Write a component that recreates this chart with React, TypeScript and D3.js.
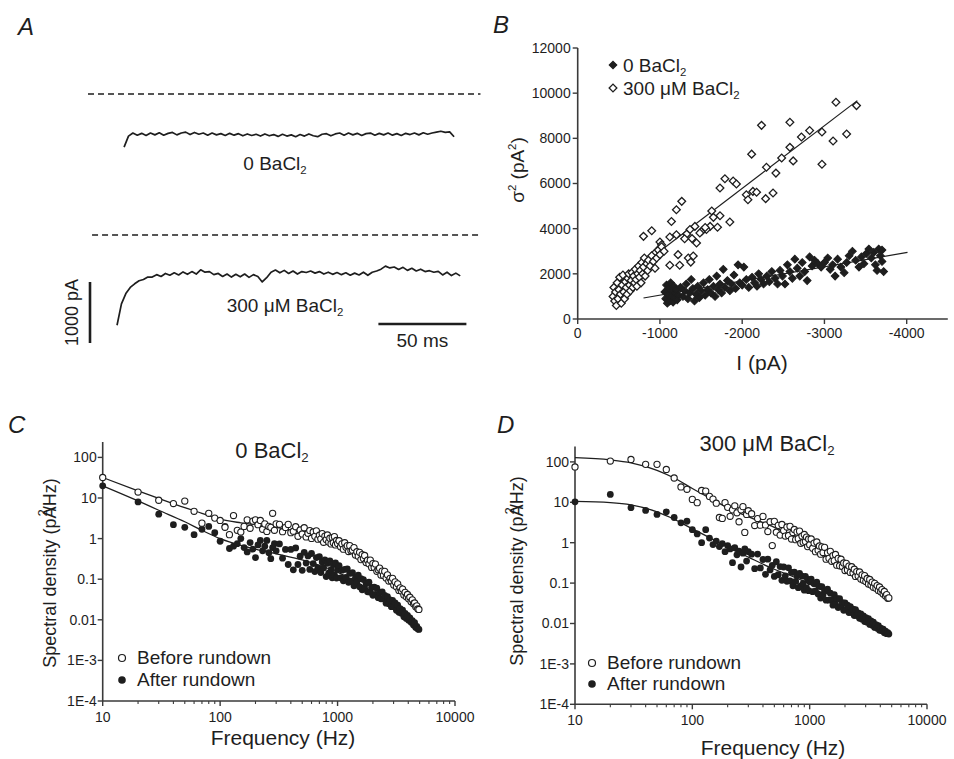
import React from 'react';
import * as d3 from 'd3';

const FONT = '"Liberation Sans", Arial, Helvetica, sans-serif';
const INK = '#1e1e1e';
const AXIS_COL = '#3a3a3a';

// ---------------- Panel A: current traces ----------------
const SAMPLE_MS = 2.5;
const trace0StartMs = 20.5;
const trace0 = [
  -870, -690, -640, -675, -645, -680, -640, -670, -635, -675,
  -645, -630, -670, -640, -625, -665, -630, -660, -640, -675,
  -640, -670, -650, -680, -645, -675, -650, -685, -655, -680,
  -660, -690, -655, -685, -665, -695, -660, -690, -670, -700,
  -665, -690, -655, -685, -700, -660, -650, -685, -655, -640,
  -675, -640, -670, -645, -680, -650, -640, -675, -645, -670,
  -640, -675, -650, -680, -645, -665, -640, -670, -635, -660,
  -640, -625, -610, -630, -620, -700,
];
const trace300StartMs = 16.5;
const trace300 = [
  -1480, -1130, -960, -860, -800, -750, -730, -690, -690, -650,
  -680, -630, -660, -620, -655, -605, -645, -600, -640, -570,
  -610, -600, -650, -630, -680, -640, -690, -645, -685, -640,
  -695, -650, -680, -770, -700, -610, -575, -620, -580, -630,
  -590, -640, -600, -615, -590, -625, -600, -640, -610, -645,
  -615, -650, -620, -660, -625, -655, -610, -660, -610, -590,
  -560, -510, -540, -525, -565, -530, -580, -545, -590, -560,
  -600, -585, -610, -595, -655, -610, -665, -625, -670,
];
const baselineStartMs = [0, 2.3];
const baselineEndMs = 223;
const timeBarMs = [165, 215];
const currentBarPA = 1000;

// ---------------- Panel B: variance vs current ----------------
const bTicksX = [0, -1000, -2000, -3000, -4000];
const bTicksY = [0, 2000, 4000, 6000, 8000, 10000, 12000];
const openDiamonds: [number, number][] = [
  [-3140, 9600], [-3390, 9450], [-2580, 8710], [-2235, 8575], [-2820, 8350], [-2720, 8060],
  [-2970, 8280], [-3270, 8190], [-3105, 7880], [-2580, 7600], [-2115, 7300], [-2480, 7130],
  [-2620, 7000], [-2970, 6850], [-2295, 6720], [-2410, 6460], [-1790, 6210], [-1890, 6110],
  [-1930, 5980], [-1730, 5800], [-2130, 5650], [-2050, 5500], [-2175, 5610], [-2070, 5280],
  [-2375, 5580], [-2285, 5330], [-1265, 5210], [-1200, 4840], [-1140, 4320], [-1630, 4780],
  [-1730, 4575], [-1650, 4500], [-1850, 4295], [-1610, 4100], [-1700, 4060], [-1425, 4100],
  [-1505, 3880], [-1365, 3960], [-1325, 3760], [-1390, 3560], [-1445, 3365], [-1200, 3730],
  [-1120, 3630], [-800, 3660], [-900, 3910], [-1000, 3410], [-1000, 3140], [-940, 2920],
  [-1220, 2850], [-1240, 2380], [-1120, 2380], [-1345, 2700], [-1405, 2790], [-1375, 2520],
  [-1020, 3290], [-1485, 3810], [-1565, 3960], [-1300, 3550], [-1550, 4050],
  [-430, 1000], [-440, 1400], [-450, 800], [-460, 1200], [-470, 600], [-480, 1600],
  [-490, 900], [-500, 1300], [-510, 1850], [-520, 1100], [-530, 700], [-540, 1500],
  [-550, 1950], [-560, 1200], [-570, 900], [-580, 1650], [-590, 1400], [-600, 1100],
  [-610, 1800], [-620, 2000], [-630, 1500], [-640, 1250], [-650, 1700], [-660, 2050],
  [-670, 1400], [-680, 1900], [-690, 1600], [-700, 2200], [-710, 1750], [-720, 1450],
  [-730, 2000], [-740, 2350], [-750, 1850], [-760, 2150], [-770, 1600], [-780, 2500],
  [-790, 2000], [-800, 2300], [-810, 2700], [-820, 1900], [-840, 2450], [-850, 2150],
  [-860, 2600], [-880, 2350], [-900, 2800], [-920, 2550], [-940, 2250], [-960, 2700],
  [-980, 3050], [-1000, 2850], [-1020, 3200], [-1050, 3000],
];
const filledDiamonds: [number, number][] = [
  [-1060, 1200], [-1070, 900], [-1080, 1500], [-1090, 700], [-1100, 1100], [-1110, 1350],
  [-1120, 800], [-1130, 1600], [-1140, 1000], [-1150, 1250], [-1160, 750], [-1170, 1450],
  [-1180, 950], [-1190, 1150], [-1200, 1300], [-1210, 850], [-1230, 1050], [-1250, 1400],
  [-1280, 1000], [-1300, 1250], [-1320, 1550], [-1340, 900], [-1360, 1150], [-1380, 1750],
  [-1400, 1350], [-1420, 800], [-1440, 1100], [-1460, 1450], [-1480, 950], [-1500, 1250],
  [-1530, 1600], [-1550, 1050], [-1580, 1300], [-1600, 1750], [-1620, 1150], [-1650, 1450],
  [-1670, 1000], [-1690, 1900], [-1710, 1300], [-1730, 1550], [-1750, 1150], [-1770, 2200],
  [-1790, 1400], [-1820, 1700], [-1850, 1250], [-1870, 1550], [-1900, 1950], [-1920, 1350],
  [-1950, 2400], [-1970, 1600], [-2000, 1500], [-2020, 2300], [-2050, 1750], [-2080, 1400],
  [-2120, 1850], [-2150, 1600], [-2180, 1450], [-2200, 2000], [-2230, 1750], [-2260, 1550],
  [-2300, 1900], [-2330, 1650], [-2360, 2100], [-2400, 1800], [-2430, 1550], [-2460, 2150],
  [-2490, 1900], [-2520, 1550], [-2550, 2400], [-2580, 2100], [-2610, 1800], [-2640, 2650],
  [-2670, 2250], [-2700, 1900], [-2730, 2500], [-2760, 2100], [-2790, 1700], [-2820, 2750],
  [-2850, 2350], [-2880, 2600], [-2920, 2450], [-2960, 2300], [-3000, 2500], [-3040, 2700],
  [-3070, 2200], [-3100, 2400], [-3130, 1900], [-3160, 2650], [-3200, 2300], [-3240, 2050],
  [-3270, 2500], [-3300, 2800], [-3340, 3000], [-3380, 2600], [-3420, 2300], [-3450, 2750],
  [-3480, 2450], [-3510, 2900], [-3540, 3100], [-3570, 2700], [-3600, 2950], [-3620, 2400],
  [-3640, 2150], [-3660, 3100], [-3680, 2800], [-3700, 2550], [-3700, 3050], [-3720, 2100],
];
const openFit: [number, number][] = [[-420, 1390], [-3400, 9670]];
const filledFit: [number, number][] = [[-800, 930], [-4010, 2950]];

// ---------------- Panels C & D: spectra ----------------
const freqs = [
  10, 20, 30, 40, 50, 60, 70, 80, 90, 100, 110, 120, 130, 140, 150, 160, 170, 180, 190, 200,
  210, 220, 230, 240, 250, 260, 270, 280, 290, 300,
  320, 340, 360, 380, 400, 420, 440, 460, 480, 500, 520, 540, 560, 580, 600, 620, 640, 660, 680, 700,
  720, 740, 760, 780, 800, 820, 840, 860, 880, 900, 920, 940, 960, 980, 1000,
  1030, 1060, 1090, 1120, 1150, 1180, 1210, 1240, 1270, 1300,
  1340, 1380, 1420, 1460, 1500, 1540, 1580, 1620, 1660, 1700,
  1750, 1800, 1850, 1900, 1950, 2000,
  2050, 2100, 2160, 2220, 2280, 2340, 2400, 2460,
  2520, 2590, 2660, 2730, 2800, 2870, 2940, 3010,
  3090, 3170, 3250, 3330, 3410, 3490, 3580, 3670,
  3760, 3850, 3940, 4030, 4130,
  4230, 4330, 4430, 4530, 4630, 4730, 4830, 4930,
];
const cBefore = [
  32, 14, 8.8, 7.3, 8.4, 4.7, 2.4, 4.2, 3.2, 2.8, 1.9, 1.25, 3.7, 1.6, 1.45, 2.0, 2.9, 1.8, 2.7, 2.9,
  2.2, 2.8, 1.7, 2.3, 1.5, 2.0, 1.9, 4.2, 1.6, 2.3,
  2.25, 1.48, 1.89, 2.24, 1.4, 1.52, 1.96, 1.14, 1.63, 1.3, 1.85, 1.1, 1.35, 1.58, 1.01, 1.46, 1.14, 1.55, 0.97, 1.21,
  0.99, 1.33, 0.81, 1.15, 0.95, 1.23, 0.82, 1.02, 0.74, 1.06, 0.79, 1.12, 0.7, 0.9, 0.76,
  0.885, 0.63, 0.745, 0.55, 0.79, 0.61, 0.67, 0.48, 0.67, 0.5,
  0.52, 0.6, 0.395, 0.475, 0.37, 0.46, 0.304, 0.403, 0.323, 0.384,
  0.258, 0.294, 0.239, 0.295, 0.195, 0.242,
  0.193, 0.236, 0.157, 0.172, 0.187, 0.127, 0.158, 0.124,
  0.156, 0.107, 0.128, 0.09, 0.105, 0.09, 0.105, 0.072,
  0.086, 0.065, 0.077, 0.053, 0.061, 0.051, 0.057, 0.041,
  0.0475, 0.037, 0.042, 0.033, 0.036,
  0.028, 0.031, 0.025, 0.026, 0.021, 0.022, 0.0185, 0.018,
];
const cAfter = [
  20, 8.0, 4.0, 2.2, 1.9, 1.25, 1.7, 2.0, 1.4, 0.86, 2.0, 0.57, 0.65, 0.75, 1.0, 0.6, 0.47, 0.8, 0.55, 0.34,
  0.7, 0.9, 0.5, 0.65, 0.9, 0.45, 0.32, 0.6, 0.75, 0.5,
  0.74, 0.33, 0.54, 0.23, 0.54, 0.17, 0.59, 0.23, 0.37, 0.165, 0.46, 0.25, 0.375, 0.174, 0.43, 0.243, 0.154, 0.34, 0.19, 0.36,
  0.146, 0.265, 0.19, 0.3, 0.116, 0.246, 0.14, 0.283, 0.171, 0.108, 0.229, 0.129, 0.252, 0.107, 0.176,
  0.217, 0.108, 0.167, 0.091, 0.174, 0.11, 0.18, 0.084, 0.139, 0.09,
  0.144, 0.069, 0.108, 0.085, 0.126, 0.065, 0.103, 0.055, 0.098, 0.059,
  0.078, 0.049, 0.084, 0.048, 0.063, 0.04,
  0.064, 0.0425, 0.06, 0.035, 0.047, 0.033, 0.049, 0.0326,
  0.04, 0.0257, 0.037, 0.025, 0.031, 0.021, 0.03, 0.021,
  0.026, 0.0172, 0.023, 0.0153, 0.0187, 0.0144, 0.0173, 0.0119,
  0.0143, 0.0108, 0.0129, 0.0097, 0.0111,
  0.0087, 0.0095, 0.0074, 0.0085, 0.0065, 0.0069, 0.0059, 0.0058,
];
const dBefore = [
  75, 105, 115, 87, 87, 65, 40, 24, 21, 11.8, 9.8, 19.6, 19, 14, 12, 9.5, 4.2, 4.0, 9.8, 7.5,
  4.5, 6.5, 8.2, 5.5, 3.3, 6.5, 7.8, 1.8, 5.0, 6.2,
  5.2, 2.66, 3.96, 2.72, 4.48, 2.75, 1.89, 3.3, 0.85, 3.38, 1.82, 2.69, 1.54, 2.83, 2.0, 1.46, 2.45, 1.51, 2.55, 1.23,
  1.79, 2.13, 1.19, 1.85, 1.26, 1.93, 0.97, 1.46, 1.02, 1.6, 1.07, 1.38, 0.8, 1.24, 0.89,
  1.24, 0.73, 0.98, 0.6, 1.04, 0.65, 0.83, 0.52, 0.79, 0.57,
  0.77, 0.39, 0.56, 0.41, 0.61, 0.346, 0.48, 0.36, 0.51, 0.277,
  0.41, 0.268, 0.39, 0.258, 0.314, 0.205,
  0.307, 0.212, 0.264, 0.184, 0.254, 0.178, 0.221, 0.146,
  0.193, 0.149, 0.188, 0.126, 0.16, 0.117, 0.153, 0.109,
  0.13, 0.095, 0.123, 0.09, 0.106, 0.079, 0.099, 0.075,
  0.087, 0.066, 0.08, 0.061, 0.069,
  0.054, 0.062, 0.048, 0.052, 0.042, 0.043,
];
const dAfter = [
  10.3, 15.7, 7.35, 6.3, 5.0, 5.8, 4.2, 3.1, 3.4, 2.1, 1.65, 1.0, 2.1, 1.3, 0.9, 1.1, 0.8, 0.95, 0.6, 0.85,
  0.7, 0.32, 0.75, 0.5, 0.62, 0.25, 0.55, 0.7, 0.35, 0.6,
  0.52, 0.228, 0.522, 0.238, 0.384, 0.165, 0.392, 0.212, 0.275, 0.146, 0.338, 0.161, 0.256, 0.117, 0.25, 0.151, 0.111, 0.239, 0.114, 0.184,
  0.086, 0.186, 0.11, 0.153, 0.077, 0.175, 0.085, 0.148, 0.098, 0.067, 0.147, 0.076, 0.124, 0.065, 0.108,
  0.125, 0.0615, 0.096, 0.0635, 0.106, 0.054, 0.0826, 0.0427, 0.0816, 0.0512,
  0.0626, 0.0377, 0.0704, 0.0378, 0.0562, 0.0386, 0.0284, 0.052, 0.0306, 0.042,
  0.0249, 0.041, 0.0265, 0.0327, 0.0212, 0.0324,
  0.0219, 0.0284, 0.0187, 0.0262, 0.0187, 0.0226, 0.0157, 0.0221,
  0.0158, 0.0184, 0.0134, 0.0174, 0.0128, 0.0155, 0.0112, 0.0139,
  0.0108, 0.0132, 0.0095, 0.0116, 0.009, 0.0108, 0.008, 0.0094,
  0.0076, 0.0088, 0.0068, 0.0077, 0.0066,
  0.0072, 0.0059, 0.0065, 0.0056, 0.0059, 0.0055,
];
const cBeforeFit: [number, number][] = [
  [10, 32], [20, 15], [30, 9.8], [50, 5.8], [70, 4.2], [100, 3.0], [150, 2.45], [200, 2.2],
  [300, 1.9], [500, 1.4], [700, 1.05], [1000, 0.72], [1500, 0.42], [2000, 0.24], [3000, 0.085],
  [4000, 0.038], [4900, 0.018],
];
const cAfterFit: [number, number][] = [
  [10, 20], [20, 8.5], [30, 5], [50, 2.6], [70, 1.6], [100, 1.0], [150, 0.68], [200, 0.55],
  [300, 0.42], [500, 0.3], [700, 0.22], [1000, 0.15], [1500, 0.08], [2000, 0.048], [3000, 0.02],
  [4000, 0.01], [4900, 0.006],
];
const dBeforeFit: [number, number][] = [
  [10, 127], [20, 112], [30, 95], [50, 62], [70, 40], [100, 22], [150, 11.5], [200, 7.3],
  [300, 4.4], [500, 2.4], [700, 1.6], [1000, 0.95], [1500, 0.5], [2000, 0.28], [3000, 0.12],
  [4700, 0.045],
];
const dAfterFit: [number, number][] = [
  [10, 10.5], [20, 9.8], [30, 8.6], [50, 5.8], [70, 3.8], [100, 2.2], [130, 1.5], [200, 0.78],
  [300, 0.44], [500, 0.22], [700, 0.15], [1000, 0.095], [1500, 0.052], [2000, 0.031],
  [3000, 0.014], [4800, 0.0055],
];
const specTickValues = [1e-4, 1e-3, 0.01, 0.1, 1, 10, 100];
const specTickLabels = ['1E-4', '1E-3', '0.01', '0.1', '1', '10', '100'];
const freqTickValues = [10, 100, 1000, 10000];
const freqTickLabels = ['10', '100', '1000', '10000'];

const Sub = ({ children }: { children: React.ReactNode }) => (
  <tspan fontSize="0.6em" dy={4}>{children}</tspan>
);

function PanelA() {
  const t = d3.scaleLinear().domain([0, 50]).range([88, 176]);
  const i0 = d3.scaleLinear().domain([0, -1000]).range([94, 155]);
  const i300 = d3.scaleLinear().domain([0, -1000]).range([235, 296]);
  const l0 = d3.line<number>().x((_, k) => t(trace0StartMs + k * SAMPLE_MS)).y((v) => i0(v));
  const l300 = d3.line<number>().x((_, k) => t(trace300StartMs + k * SAMPLE_MS)).y((v) => i300(v));
  const barLen = i0(-currentBarPA) - i0(0);
  return (
    <g>
      <text x={18} y={35} fontSize={24} fontStyle="italic" fill={INK}>A</text>
      <line x1={t(baselineStartMs[0])} x2={t(baselineEndMs)} y1={i0(0)} y2={i0(0)} stroke={INK} strokeWidth={1.6} strokeDasharray="6,4" />
      <line x1={t(baselineStartMs[1])} x2={t(baselineEndMs)} y1={i300(0)} y2={i300(0)} stroke={INK} strokeWidth={1.6} strokeDasharray="6,4" />
      <path d={l0(trace0) || ''} fill="none" stroke={INK} strokeWidth={1.7} strokeLinejoin="round" />
      <path d={l300(trace300) || ''} fill="none" stroke={INK} strokeWidth={1.7} strokeLinejoin="round" />
      <text x={275} y={170} fontSize={19} textAnchor="middle" fill={INK}>0 BaCl<Sub>2</Sub></text>
      <text x={285} y={312} fontSize={19} textAnchor="middle" fill={INK}>300 μM BaCl<Sub>2</Sub></text>
      <line x1={90} x2={90} y1={282} y2={282 + barLen} stroke={INK} strokeWidth={2.6} />
      <text transform={`translate(78,${282 + barLen / 2}) rotate(-90)`} fontSize={18} textAnchor="middle" fill={INK}>1000 pA</text>
      <line x1={t(timeBarMs[0])} x2={t(timeBarMs[1])} y1={324} y2={324} stroke={INK} strokeWidth={2.6} />
      <text x={(t(timeBarMs[0]) + t(timeBarMs[1])) / 2} y={347} fontSize={19} textAnchor="middle" fill={INK}>50 ms</text>
    </g>
  );
}

function PanelB() {
  const x = d3.scaleLinear().domain([0, -4500]).range([577.7, 947.8]);
  const y = d3.scaleLinear().domain([0, 12000]).range([319, 48]);
  const sq = d3.symbol(d3.symbolSquare, 30)() || '';
  const fitLine = d3.line<[number, number]>().x((d) => x(d[0])).y((d) => y(d[1]));
  return (
    <g>
      <text x={493} y={33} fontSize={24} fontStyle="italic" fill={INK}>B</text>
      <line x1={x(0)} x2={x(-4500)} y1={y(0)} y2={y(0)} stroke={AXIS_COL} strokeWidth={1.6} />
      <line x1={x(0)} x2={x(0)} y1={y(0)} y2={y(12000)} stroke={AXIS_COL} strokeWidth={1.6} />
      {bTicksY.map((v) => (
        <g key={'by' + v}>
          <line x1={x(0) - 5} x2={x(0)} y1={y(v)} y2={y(v)} stroke={AXIS_COL} strokeWidth={1.4} />
          <text x={x(0) - 7} y={y(v)} dy="0.35em" fontSize={14} textAnchor="end" fill={INK}>{v}</text>
        </g>
      ))}
      {bTicksX.map((v) => (
        <g key={'bx' + v}>
          <line x1={x(v)} x2={x(v)} y1={y(0)} y2={y(0) + 5} stroke={AXIS_COL} strokeWidth={1.4} />
          <text x={x(v)} y={y(0) + 19} fontSize={14} textAnchor="middle" fill={INK}>{v === 0 ? '0' : v}</text>
        </g>
      ))}
      <text transform="translate(524,170) rotate(-90)" fontSize={19} textAnchor="middle" fill={INK}>
        σ<tspan fontSize="0.6em" dy={-8}>2</tspan><tspan dy={8}> (pA</tspan><tspan fontSize="0.6em" dy={-8}>2</tspan><tspan dy={8}>)</tspan>
      </text>
      <text x={762} y={370} fontSize={21} textAnchor="middle" fill={INK}>I (pA)</text>
      <path d={fitLine(openFit) || ''} stroke={INK} strokeWidth={1.2} fill="none" />
      <path d={fitLine(filledFit) || ''} stroke={INK} strokeWidth={1.2} fill="none" />
      {openDiamonds.map((d, k) => (
        <path key={'o' + k} d={sq} transform={`translate(${x(d[0])},${y(d[1])}) rotate(45)`} fill="#fff" stroke={INK} strokeWidth={1.3} />
      ))}
      {filledDiamonds.map((d, k) => (
        <path key={'f' + k} d={sq} transform={`translate(${x(d[0])},${y(d[1])}) rotate(45)`} fill={INK} stroke={INK} strokeWidth={1} />
      ))}
      <path d={sq} transform="translate(613,65) rotate(45)" fill={INK} stroke={INK} strokeWidth={1} />
      <text x={623} y={72} fontSize={19} fill={INK}>0 BaCl<Sub>2</Sub></text>
      <path d={sq} transform="translate(613,88) rotate(45)" fill="#fff" stroke={INK} strokeWidth={1.3} />
      <text x={623} y={95} fontSize={19} fill={INK}>300 μM BaCl<Sub>2</Sub></text>
    </g>
  );
}

type SpecProps = {
  xL: number; xR: number; yBottom: number; ppd: number;
  before: number[]; after: number[];
  beforeFit: [number, number][]; afterFit: [number, number][];
  letter: string; letterX: number; letterY: number;
  title: React.ReactNode; titleX: number; titleY: number;
  yLabelX: number; yLabelY: number; xLabelX: number; xLabelY: number;
  legX: number; legY1: number; legY2: number;
};

function SpecPanel(p: SpecProps) {
  const x = d3.scaleLog().domain([10, 10000]).range([p.xL, p.xR]);
  const yTopVal = 240;
  const y = d3.scaleLog().domain([1e-4, yTopVal]).range([p.yBottom, p.yBottom - p.ppd * Math.log10(yTopVal / 1e-4)]);
  const fit = d3.line<[number, number]>().x((d) => x(d[0])).y((d) => y(d[1])).curve(d3.curveMonotoneX);
  const minor: number[] = [];
  [10, 100, 1000].forEach((dec) => { for (let m = 2; m <= 9; m++) minor.push(dec * m); });
  return (
    <g>
      <text x={p.letterX} y={p.letterY} fontSize={24} fontStyle="italic" fill={INK}>{p.letter}</text>
      <text x={p.titleX} y={p.titleY} fontSize={22} textAnchor="middle" fill={INK}>{p.title}</text>
      <line x1={p.xL} x2={p.xR} y1={p.yBottom} y2={p.yBottom} stroke={AXIS_COL} strokeWidth={1.6} />
      <line x1={p.xL} x2={p.xL} y1={p.yBottom} y2={y(yTopVal)} stroke={AXIS_COL} strokeWidth={1.6} />
      {specTickValues.map((v, k) => (
        <g key={'sy' + k}>
          <line x1={p.xL - 5} x2={p.xL} y1={y(v)} y2={y(v)} stroke={AXIS_COL} strokeWidth={1.4} />
          <text x={p.xL - 6} y={y(v)} dy="0.35em" fontSize={14} textAnchor="end" fill={INK}>{specTickLabels[k]}</text>
        </g>
      ))}
      {freqTickValues.map((v, k) => (
        <g key={'sx' + k}>
          <line x1={x(v)} x2={x(v)} y1={p.yBottom} y2={p.yBottom + 5} stroke={AXIS_COL} strokeWidth={1.4} />
          <text x={x(v)} y={p.yBottom + 21} fontSize={14} textAnchor="middle" fill={INK}>{freqTickLabels[k]}</text>
        </g>
      ))}
      {minor.map((v) => (
        <line key={'mn' + v} x1={x(v)} x2={x(v)} y1={p.yBottom} y2={p.yBottom + 3} stroke={AXIS_COL} strokeWidth={1.1} />
      ))}
      <text transform={`translate(${p.yLabelX},${p.yLabelY}) rotate(-90)`} fontSize={18} textAnchor="middle" fill={INK}>
        Spectral density (pA<tspan fontSize={13} dy={-9} dx={-10}>2</tspan><tspan dy={9} dx={-2}>/Hz)</tspan>
      </text>
      <text x={p.xLabelX} y={p.xLabelY} fontSize={21} textAnchor="middle" fill={INK}>Frequency (Hz)</text>
      <path d={fit(p.beforeFit) || ''} fill="none" stroke={INK} strokeWidth={1.3} />
      <path d={fit(p.afterFit) || ''} fill="none" stroke={INK} strokeWidth={1.3} />
      {p.after.map((v, k) => (
        <circle key={'a' + k} cx={x(freqs[k])} cy={y(v)} r={3.4} fill={INK} />
      ))}
      {p.before.map((v, k) => (
        <circle key={'b' + k} cx={x(freqs[k])} cy={y(v)} r={3.1} fill="#fff" stroke={INK} strokeWidth={1.1} />
      ))}
      <circle cx={p.legX} cy={p.legY1} r={3.5} fill="#fff" stroke={INK} strokeWidth={1.2} />
      <text x={p.legX + 15} y={p.legY1 + 6} fontSize={19} fill={INK}>Before rundown</text>
      <circle cx={p.legX} cy={p.legY2} r={3.8} fill={INK} />
      <text x={p.legX + 15} y={p.legY2 + 6} fontSize={19} fill={INK}>After rundown</text>
    </g>
  );
}

export default function App() {
  return (
    <svg width={954} height={759} viewBox="0 0 954 759" style={{ position: 'absolute', left: 0, top: 0, background: '#fff', fontFamily: FONT }}>
      <rect x={0} y={0} width={954} height={759} fill="#fff" />
      <PanelA />
      <PanelB />
      <SpecPanel
        xL={102.7} xR={455} yBottom={701} ppd={40.6}
        before={cBefore} after={cAfter} beforeFit={cBeforeFit} afterFit={cAfterFit}
        letter="C" letterX={8} letterY={433}
        title={<>0 BaCl<Sub>2</Sub></>} titleX={272} titleY={458}
        yLabelX={56} yLabelY={573} xLabelX={283} xLabelY={745}
        legX={122} legY1={658} legY2={680}
      />
      <SpecPanel
        xL={575} xR={927} yBottom={704.3} ppd={40.4}
        before={dBefore} after={dAfter} beforeFit={dBeforeFit} afterFit={dAfterFit}
        letter="D" letterX={497} letterY={433}
        title={<>300 μM BaCl<Sub>2</Sub></>} titleX={767} titleY={451}
        yLabelX={523} yLabelY={571} xLabelX={773} xLabelY={755}
        legX={592} legY1={663} legY2={684}
      />
    </svg>
  );
}
